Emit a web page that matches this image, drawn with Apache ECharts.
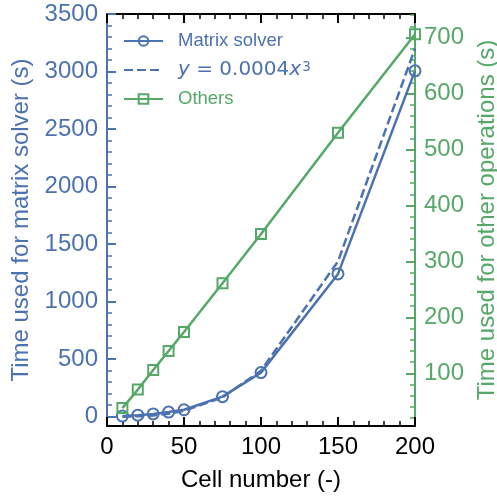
<!DOCTYPE html>
<html>
<head>
<meta charset="utf-8">
<script src="https://cdn.jsdelivr.net/npm/echarts@6/dist/echarts.min.js"></script>
<style>
  html, body { margin: 0; padding: 0; background: #fff; }
  #chart { width: 497px; height: 498px; }
</style>
</head>
<body>
<div id="chart"></div>
<script>
// Timing of the solver and the remaining operations against cell count
const cellNumbers = [10, 20, 30, 40, 50, 75, 100, 150, 200];
const solverTime = [5, 13, 24, 40, 60, 174, 383, 1241, 3006];
const fitTime = [0.4, 3.2, 10.8, 25.6, 50, 168.75, 400, 1350, 3200];
const otherTime = [38, 71, 106, 140, 174, 261, 349, 530, 706];

const xTicks = [0, 50, 100, 150, 200];
const leftTicks = [0, 500, 1000, 1500, 2000, 2500, 3000, 3500];
const rightTicks = [100, 200, 300, 400, 500, 600, 700];

const leftRange = [-81, 3500];
const rightRange = [6, 742];

const BLUE = '#4c72b0';
const GREEN = '#55a868';
const FONT = 'Liberation Sans';

function minorBetween(lo, hi, step, majors) {
  const out = [];
  for (let v = lo; v <= hi + 1e-9; v += step) {
    if (!majors.includes(v)) out.push(v);
  }
  return out;
}
const leftMinor = minorBetween(0, 3500, 100, leftTicks);
const rightMinor = minorBetween(20, 740, 20, rightTicks);

const pairs = (ys) => cellNumbers.map((x, i) => [x, ys[i]]);
const plain = (v) => String(v);

const chart = echarts.init(document.getElementById('chart'), null, { renderer: 'canvas' });

const xBase = {
  type: 'value', min: 0, max: 200, interval: 50,
  splitLine: { show: false },
  axisLine: { show: true, onZero: false, lineStyle: { color: '#000', width: 2 } },
  axisTick: { show: true, inside: true, length: 9, lineStyle: { color: '#000', width: 2 } },
  minorTick: { show: true, splitNumber: 5, length: 5, lineStyle: { color: '#000', width: 1.5 } }
};

function yAxisDef(pos, range, color, ticks, tickLen, showLabel, extra) {
  return Object.assign({
    type: 'value', position: pos, min: range[0], max: range[1],
    splitLine: { show: false },
    axisLine: { show: true, onZero: false, lineStyle: { color: color, width: 2 } },
    axisTick: { show: true, inside: true, length: tickLen, customValues: ticks,
      lineStyle: { color: color, width: tickLen > 6 ? 2 : 1.5 } },
    axisLabel: { show: showLabel, customValues: ticks, color: color, formatter: plain,
      fontFamily: FONT, fontSize: 24, margin: 9 }
  }, extra || {});
}

chart.setOption({
  animation: false,
  backgroundColor: '#fff',
  grid: { left: 107, right: 82, top: 14, bottom: 72, containLabel: false, outerBoundsMode: 'none' },
  xAxis: [
    Object.assign({}, xBase, {
      position: 'bottom',
      axisLabel: { show: true, color: '#000', fontFamily: FONT, fontSize: 24, margin: 9,
        customValues: xTicks, formatter: plain },
      name: 'Cell number (-)', nameLocation: 'middle', nameGap: 42,
      nameTextStyle: { color: '#000', fontFamily: FONT, fontSize: 24 }
    }),
    Object.assign({}, xBase, { position: 'top', axisLabel: { show: false } })
  ],
  yAxis: [
    yAxisDef('left', leftRange, BLUE, leftTicks, 9, true, {
      name: 'Time used for matrix solver (s)', nameLocation: 'middle', nameRotate: 90, nameGap: 69,
      nameTextStyle: { color: BLUE, fontFamily: FONT, fontSize: 24 }
    }),
    yAxisDef('right', rightRange, GREEN, rightTicks, 9, true, {
      name: 'Time used for other operations (s)', nameLocation: 'middle', nameRotate: 90, nameGap: 58,
      nameTextStyle: { color: GREEN, fontFamily: FONT, fontSize: 24 }
    }),
    yAxisDef('left', leftRange, BLUE, leftMinor, 5, false),
    yAxisDef('right', rightRange, GREEN, rightMinor, 5, false)
  ],
  legend: {
    orient: 'vertical', left: 118, top: 26,
    itemWidth: 39, itemHeight: 12, itemGap: 9,
    textStyle: { fontFamily: FONT, fontSize: 18.5, lineHeight: 20, padding: [0, 0, 0, 10],
      rich: {
        m: { fontFamily: 'DejaVu Sans', fontSize: 20, lineHeight: 20, color: BLUE },
        i: { fontFamily: 'DejaVu Sans', fontStyle: 'italic', fontSize: 20, lineHeight: 20, color: BLUE },
        sup: { fontFamily: 'DejaVu Sans', fontSize: 13.5, lineHeight: 8, color: BLUE,
          verticalAlign: 'top', padding: [0, 0, 0, 1] }
      }
    },
    formatter: function (name) {
      if (name === 'fit') return '{i|y}{m| = 0.0004}{i|x}{sup|3}';
      return name;
    },
    data: [
      { name: 'Matrix solver', textStyle: { color: BLUE } },
      { name: 'fit', textStyle: { color: BLUE } },
      { name: 'Others', textStyle: { color: GREEN } }
    ]
  },
  series: [
    {
      name: 'Matrix solver', type: 'line', xAxisIndex: 0, yAxisIndex: 0,
      data: pairs(solverTime), clip: false,
      symbol: 'circle', symbolSize: 11, showSymbol: true,
      lineStyle: { color: BLUE, width: 2.5 },
      itemStyle: { color: 'rgba(255,255,255,0)', borderColor: BLUE, borderWidth: 2 },
      z: 3
    },
    {
      name: 'fit', type: 'line', xAxisIndex: 0, yAxisIndex: 0,
      data: pairs(fitTime), clip: false,
      symbol: 'circle', symbolSize: 0, showSymbol: false,
      lineStyle: { color: BLUE, width: 2.5, type: [9, 4] },
      itemStyle: { color: BLUE, opacity: 0 },
      z: 3
    },
    {
      name: 'Others', type: 'line', xAxisIndex: 0, yAxisIndex: 1,
      data: pairs(otherTime), clip: false,
      symbol: 'rect', symbolSize: 10, showSymbol: true,
      lineStyle: { color: GREEN, width: 2.5 },
      itemStyle: { color: 'rgba(255,255,255,0)', borderColor: GREEN, borderWidth: 2 },
      z: 4
    }
  ]
});
</script>
</body>
</html>
